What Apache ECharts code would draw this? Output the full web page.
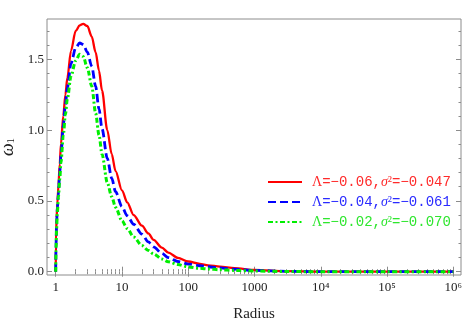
<!DOCTYPE html>
<html><head><meta charset="utf-8">
<script src="https://cdn.jsdelivr.net/npm/echarts@6/dist/echarts.min.js"></script>
<style>html,body{margin:0;padding:0;background:#fff}#c{width:463px;height:323px}</style>
</head><body><div id="c"></div>
<script>
// ---- data ----
const radius = [1,1.01,1.03,1.06,1.1,1.15,1.2,1.3,1.4,1.5,1.7,2.0,2.3,2.6,3.0,3.5,4,4.5,5,6,7,8,10,12,15,20,25,30,40,50,70,100,150,200,300,500,1000,3000,1e4,1e5,1e6];
const omegaA = [0,0.22,0.38,0.48,0.61,0.76,0.90,1.10,1.25,1.37,1.56,1.70,1.74,1.75,1.735,1.66,1.55,1.42,1.28,1.00,0.83,0.71,0.575,0.49,0.40,0.325,0.27,0.225,0.17,0.135,0.097,0.072,0.055,0.045,0.036,0.025,0.012,0.004,0.001,0,0];
const omegaB = [0,0.17,0.34,0.45,0.56,0.70,0.82,1.03,1.18,1.30,1.47,1.58,1.615,1.605,1.55,1.45,1.31,1.15,1.01,0.80,0.66,0.565,0.46,0.395,0.335,0.265,0.21,0.175,0.13,0.10,0.072,0.054,0.042,0.035,0.027,0.018,0.009,0.003,0,0,0];
const omegaC = [0,0.14,0.30,0.42,0.53,0.65,0.77,0.96,1.11,1.22,1.38,1.49,1.535,1.52,1.44,1.31,1.12,0.965,0.83,0.63,0.53,0.455,0.36,0.305,0.245,0.185,0.15,0.125,0.09,0.07,0.05,0.033,0.024,0.019,0.014,0.009,0.005,0.001,0,0,0];
const lambdaLabels = ['\u22120.06','\u22120.04','\u22120.02'];
const sigmaLabels = ['\u22120.047','\u22120.061','\u22120.070'];
const xMajorTicks = [1,10,100,1000,1e4,1e5,1e6];
const xTickLabels = ['1','10','100','1000','10\u2074','10\u2075','10\u2076'];
const xMinorTicks = [2,3,4,5,6,7,8,9,20,30,40,50,60,70,80,90,200,300,400,500,600,700,800,900,2000,3000,4000,5000,6000,7000,8000,9000,2e4,3e4,4e4,5e4,6e4,7e4,8e4,9e4,2e5,3e5,4e5,5e5,6e5,7e5,8e5,9e5];
const yMajorTicks = [0,0.5,1.0,1.5];
const yTickLabels = ['0.0','0.5','1.0','1.5'];
const yMinorTicks = [0.1,0.2,0.3,0.4,0.6,0.7,0.8,0.9,1.1,1.2,1.3,1.4,1.6,1.7];
const xTitle = 'Radius';

// ---- styling ----
const colors = ['#ff0000','#0000ff','#00ee00'];
const textColors = ['#ff2a2a','#2a2aff','#2ee62e'];
const frameColor = '#8c8c8c';
const serif = '"Liberation Serif", "DejaVu Serif", serif';
const mono = '"Liberation Mono", "DejaVu Sans Mono", monospace';
const series1 = [omegaA, omegaB, omegaC];
const names = lambdaLabels.map((l,i)=>'\u039b=' + l + ',\u03c3\u00b2=' + sigmaLabels[i]);
const lineTypes = ['solid',[8,4],[5,2.5,2,2.5]];
const widths = [2.3,2.8,3];

const xBase = {type:'log', logBase:10, min:0.739, max:1.306e6, axisLine:{show:false}, splitLine:{show:false}, minorTick:{show:false}, minorSplitLine:{show:false}};
const yBase = {type:'value', min:-0.0233, max:1.7846, axisLine:{show:false}, splitLine:{show:false}, minorTick:{show:false}};
const tick = (vals, len) => ({show:true, inside:true, length:len, customValues:vals, lineStyle:{color:frameColor, width:1}});

function xFmt(v){
  const i = xMajorTicks.findIndex(t => Math.abs(Math.log10(t) - Math.log10(v)) < 1e-6);
  return i >= 0 ? xTickLabels[i] : '';
}
function yFmt(v){
  const i = yMajorTicks.findIndex(t => Math.abs(t - v) < 1e-6);
  return i >= 0 ? yTickLabels[i] : '';
}

const chart = echarts.init(document.getElementById('c'), null, {renderer:'canvas'});
chart.setOption({
  animation:false,
  backgroundColor:'#fff',
  grid:{left:47, right:2, top:19, bottom:48, outerBoundsMode:'none', containLabel:false, show:true, borderColor:frameColor, borderWidth:1, backgroundColor:'transparent'},
  xAxis:[
    Object.assign({}, xBase, {position:'bottom', axisTick:tick(xMajorTicks,5),
      axisLabel:{show:true, customValues:xMajorTicks, formatter:xFmt, margin:6, color:'#222', fontFamily:serif, fontSize:13, hideOverlap:false},
      name:xTitle, nameLocation:'middle', nameGap:32, nameTextStyle:{fontFamily:serif, fontSize:15, color:'#222'}}),
    Object.assign({}, xBase, {position:'bottom', axisTick:tick(xMinorTicks,2.5), axisLabel:{show:false}}),
    Object.assign({}, xBase, {position:'top', axisTick:tick(xMajorTicks,5), axisLabel:{show:false}}),
    Object.assign({}, xBase, {position:'top', axisTick:tick(xMinorTicks,2.5), axisLabel:{show:false}})
  ],
  yAxis:[
    Object.assign({}, yBase, {position:'left', axisTick:tick(yMajorTicks,5),
      axisLabel:{show:true, customValues:yMajorTicks, formatter:yFmt, margin:3, fontFamily:serif, fontSize:13, color:'#222'},
      name:'{w|\u03c9}{s|1}', nameLocation:'middle', nameGap:24, nameRotate:90,
      nameTextStyle:{color:'#222', rich:{w:{fontFamily:serif, fontStyle:'italic', fontSize:18, color:'#222'}, s:{fontFamily:serif, fontSize:11, color:'#222', padding:[6,0,0,0]}}}}),
    Object.assign({}, yBase, {position:'left', axisTick:tick(yMinorTicks,2.5), axisLabel:{show:false}}),
    Object.assign({}, yBase, {position:'right', axisTick:tick(yMajorTicks,5), axisLabel:{show:false}}),
    Object.assign({}, yBase, {position:'right', axisTick:tick(yMinorTicks,2.5), axisLabel:{show:false}})
  ],
  legend:{
    orient:'vertical', left:267, top:175, padding:0, itemWidth:34, itemHeight:14, itemGap:6,
    itemStyle:{opacity:0},
    data:names.map((n,i)=>({name:n, textStyle:{color:textColors[i]}})),
    formatter:function(name){
      const i = names.indexOf(name);
      return '{g|\u039b}{m|=' + lambdaLabels[i] + ',}{gi|\u03c3}{g|\u00b2}{m|=' + sigmaLabels[i] + '}';
    },
    textStyle:{padding:[0,0,0,5], rich:{
      g:{fontFamily:serif, fontSize:14},
      gi:{fontFamily:serif, fontSize:14, fontStyle:'italic'},
      m:{fontFamily:mono, fontSize:14}
    }}
  },
  series:series1.map((arr,i)=>({
    name:names[i], type:'line', xAxisIndex:0, yAxisIndex:0,
    symbol:'none', showSymbol:false, smooth:0.3, smoothMonotone:'x',
    lineStyle:{color:colors[i], width:widths[i], type:lineTypes[i]},
    itemStyle:{color:colors[i]},
    data:radius.map((r,j)=>[r, arr[j]])
  }))
});
</script></body></html>
